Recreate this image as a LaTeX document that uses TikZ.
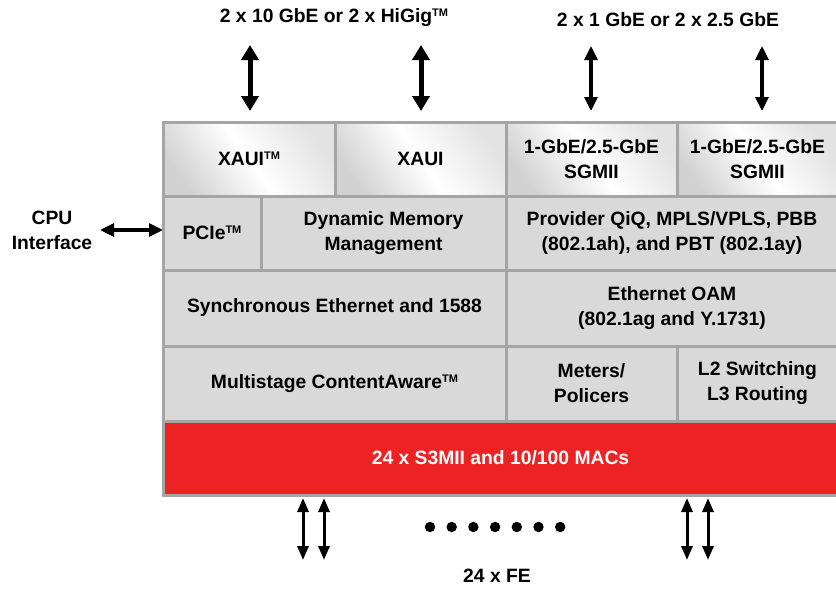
\documentclass[tikz,border=0pt]{standalone}
\usepackage{fontspec}
\setmainfont{Liberation Sans}
\usetikzlibrary{arrows.meta}
\definecolor{bordergray}{HTML}{A5A5A5}
\definecolor{cellgray}{HTML}{D9D9D9}
\definecolor{macred}{HTML}{ED2224}
\newcommand{\tmark}{\raisebox{0.6ex}{\fontsize{11}{11}\selectfont TM}}
\begin{document}
\begin{tikzpicture}[x=1pt,y=-1pt,
  txt/.style={font=\fontsize{19.3}{25}\selectfont\bfseries, align=center, inner sep=0pt, outer sep=0pt},
  cell/.style={txt, draw=bordergray, line width=3pt, fill=cellgray, anchor=north west},
  metal/.style={cell, left color=gray!35, right color=gray!22, middle color=white, shading angle=125},
  bigarr/.style={line width=5pt, {Triangle[width=17pt,length=15pt]}-{Triangle[width=17pt,length=15pt]}},
  medarr/.style={line width=3.2pt, {Triangle[width=13pt,length=14pt]}-{Triangle[width=13pt,length=14pt]}},
  smallarr/.style={line width=3pt, {Triangle[width=11pt,length=14pt]}-{Triangle[width=11pt,length=14pt]}}]
\useasboundingbox (0,0) rectangle (836,589);
% row 1
\node[metal, minimum width=172, minimum height=74] (x1) at (163,122) {XAUI\tmark};
\node[metal, minimum width=171, minimum height=74] (x2) at (335,122) {XAUI};
\node[metal, minimum width=171, minimum height=74] (s1) at (506,122) {1-GbE/2.5-GbE\\SGMII};
\node[metal, minimum width=161, minimum height=74] (s2) at (677,122) {1-GbE/2.5-GbE\\SGMII};
% row 2
\node[cell, minimum width=98, minimum height=74] (pcie) at (163,196) {PCIe\tmark};
\node[cell, minimum width=245, minimum height=74] (dmm) at (261,196) {Dynamic Memory\\Management};
\node[cell, minimum width=332, minimum height=74] (prov) at (506,196) {Provider QiQ, MPLS/VPLS, PBB\\(802.1ah), and PBT (802.1ay)};
% row 3
\node[cell, minimum width=343, minimum height=76] (sync) at (163,270) {Synchronous Ethernet and 1588};
\node[cell, minimum width=332, minimum height=76] (oam) at (506,270) {Ethernet OAM\\(802.1ag and Y.1731)};
% row 4
\node[cell, minimum width=343, minimum height=75] (multi) at (163,346) {Multistage ContentAware\tmark};
\node[cell, minimum width=171, minimum height=75] (meter) at (506,346) {Meters/\\Policers};
\node[cell, minimum width=161, minimum height=75] (l2) at (677,346) {L2 Switching\\L3 Routing};
% red MAC row
\node[cell, fill=macred, text=white, minimum width=675, minimum height=74] (mac) at (163,421) {24 x S3MII and 10/100 MACs};
% labels
\node[txt] (t1) at (334,18) {2 x 10 GbE or 2 x HiGig\tmark};
\node[txt] (t2) at (668,20) {2 x 1 GbE or 2 x 2.5 GbE};
\node[txt] (cpu) at (52,230) {CPU\\Interface};
\node[txt] (fe) at (497,576) {24 x FE};
% top arrows
\coordinate (a1t) at (250,45); \coordinate (a1b) at (250,111);
\coordinate (a2t) at (421,45); \coordinate (a2b) at (421,111);
\coordinate (a3t) at (591,46); \coordinate (a3b) at (591,111);
\coordinate (a4t) at (762,46); \coordinate (a4b) at (762,111);
\draw[bigarr] (a1t) -- (a1b);
\draw[bigarr] (a2t) -- (a2b);
\draw[medarr] (a3t) -- (a3b);
\draw[medarr] (a4t) -- (a4b);
% CPU arrow
\coordinate (cl) at (100,230); \coordinate (cr) at (163,230);
\draw[medarr] (cl) -- (cr);
% bottom arrows
\foreach \x [count=\i] in {303,324,687,708}{
  \coordinate (b\i t) at (\x,498); \coordinate (b\i b) at (\x,560);
  \draw[smallarr] (b\i t) -- (b\i b);
}
% dots
\foreach \i in {0,...,6}{
  \fill (430+21.7*\i,527) circle (5.2);
}
\end{tikzpicture}
\end{document}
